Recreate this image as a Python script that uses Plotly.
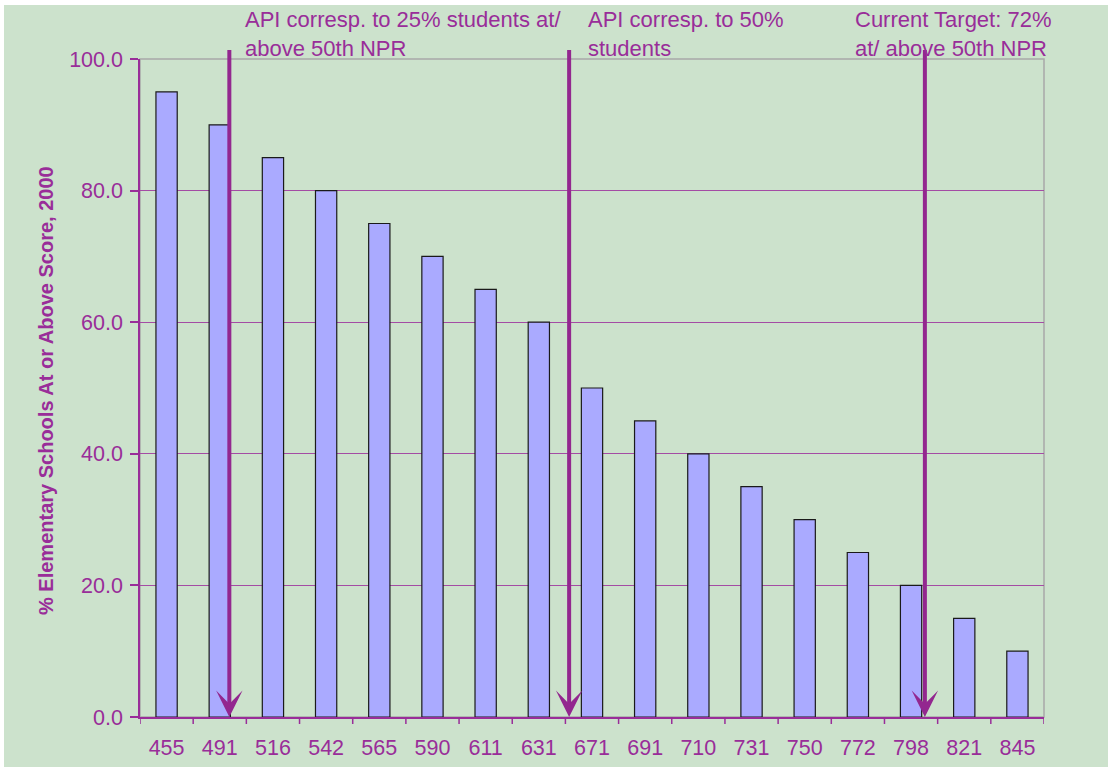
import plotly.graph_objects as go

# API score thresholds and the share of elementary schools at or above each
api_scores = ["455", "491", "516", "542", "565", "590", "611", "631", "671",
              "691", "710", "731", "750", "772", "798", "821", "845"]
pct_schools = [95, 90, 85, 80, 75, 70, 65, 60, 50, 45, 40, 35, 30, 25, 20, 15, 10]

# Reference markers: position along the category axis and their labels
marker_pos = [1.18, 7.57, 14.26]
marker_labels = [
    "API corresp. to 25% students at/<br>above 50th NPR",
    "API corresp. to 50%<br>students",
    "Current Target: 72%<br>at/ above 50th NPR",
]
label_pos = [1.47, 7.92, 12.94]

PURPLE = "#992D99"
ARROW = "#93278F"
BG = "#CCE2CC"
FONT = "Liberation Sans, Arial, sans-serif"

W, H = 1110, 767
ML, MR, MT, MB = 140, 66, 59, 50
PW, PH = W - ML - MR, H - MT - MB


def px_x(p):
    return (p - ML) / PW


def px_y(p):
    return (H - MB - p) / PH


fig = go.Figure()
fig.add_trace(go.Bar(
    x=list(range(len(api_scores))),
    y=pct_schools,
    width=0.4,
    marker=dict(color="#AAAAFF", line=dict(color="#1a1a1a", width=1.2)),
    showlegend=False,
))

# green panel behind everything, leaving a thin white edge at top/left/right
fig.add_shape(type="rect", xref="paper", yref="paper",
              x0=px_x(4), x1=px_x(1108), y0=px_y(770), y1=px_y(5),
              fillcolor=BG, line=dict(width=0), layer="below")
# plot frame (gray top/right border)
fig.add_shape(type="rect", xref="paper", yref="paper", x0=0, x1=1, y0=0, y1=1,
              line=dict(color="#A8A8A8", width=1.5), layer="below")

annotations = []
for xp in marker_pos:
    annotations.append(dict(
        x=xp, y=0, xref="x", yref="y",
        ax=xp, ay=101.6, axref="x", ayref="y",
        showarrow=True, arrowhead=3, arrowsize=1.1, arrowwidth=4,
        arrowcolor=ARROW, text="",
    ))
for xp, txt in zip(label_pos, marker_labels):
    annotations.append(dict(
        x=xp, y=px_y(5), xref="x", yref="paper",
        xanchor="left", yanchor="top", align="left", xshift=-2,
        showarrow=False, text=txt,
        font=dict(family=FONT, size=22, color=PURPLE),
    ))
annotations.append(dict(
    x=px_x(46), y=px_y(391), xref="paper", yref="paper", showarrow=False,
    xanchor="center", yanchor="middle",
    text="<b>% Elementary Schools At or Above Score, 2000</b>",
    textangle=-90, font=dict(family=FONT, size=20, color=PURPLE),
))

fig.update_layout(
    width=W, height=H,
    margin=dict(l=ML, r=MR, t=MT, b=MB, autoexpand=False),
    paper_bgcolor="white", plot_bgcolor=BG,
    font=dict(family=FONT, size=21.5, color=PURPLE),
    annotations=annotations,
)
fig.update_xaxes(
    tickmode="array", tickvals=list(range(len(api_scores))), ticktext=api_scores,
    range=[-0.5, len(api_scores) - 0.5], automargin=False,
    showgrid=False, showline=True, linecolor=PURPLE, linewidth=1.5,
    ticks="", tickfont=dict(size=21.5, color=PURPLE), ticklabelstandoff=10,
    zeroline=False,
)
fig.update_yaxes(
    range=[0, 100], tickvals=[0, 20, 40, 60, 80, 100], tickformat=".1f",
    automargin=False,
    showgrid=True, gridcolor="#A44CA4", gridwidth=1,
    showline=True, linecolor=PURPLE, linewidth=1.5,
    ticks="outside", ticklen=8, tickcolor=PURPLE, tickwidth=1.5,
    tickfont=dict(size=21.5, color=PURPLE), ticklabelstandoff=3,
    zeroline=False,
)

# tick marks between categories on the x axis
for i in range(len(api_scores) + 1):
    fig.add_shape(type="line", xref="x", yref="paper",
                  x0=i - 0.5, x1=i - 0.5, y0=0, y1=-7 / PH,
                  line=dict(color=PURPLE, width=1.5))

fig.write_html("out.html")
